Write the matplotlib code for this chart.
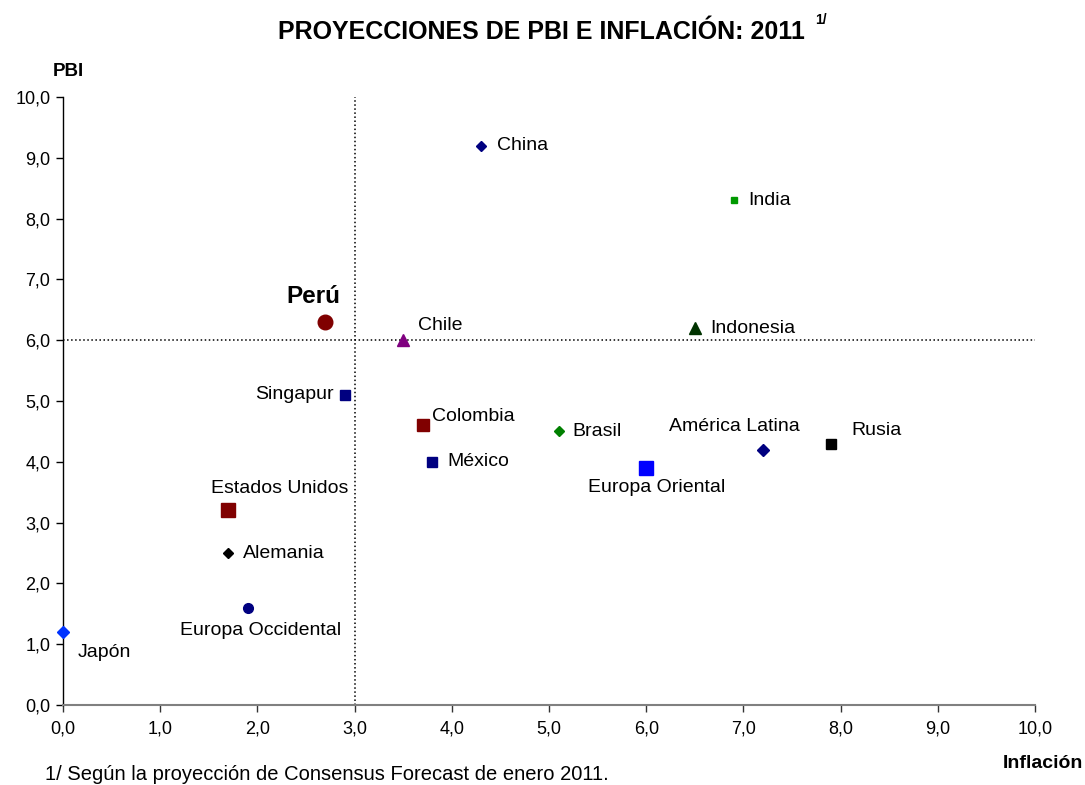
import matplotlib
matplotlib.use('Agg')
import matplotlib.pyplot as plt
from matplotlib.ticker import FuncFormatter

plt.rcParams['font.family'] = ['Liberation Sans', 'DejaVu Sans']

# Datos: inflación (x) y crecimiento del PBI (y) proyectados para 2011
paises = ['China', 'India', 'Perú', 'Chile', 'Indonesia', 'Singapur', 'Colombia',
          'Brasil', 'México', 'América Latina', 'Rusia', 'Europa Oriental',
          'Estados Unidos', 'Alemania', 'Europa Occidental', 'Japón']
inflacion = [4.3, 6.9, 2.7, 3.5, 6.5, 2.9, 3.7, 5.1, 3.8, 7.2, 7.9, 6.0, 1.7, 1.7, 1.9, 0.0]
pbi = [9.2, 8.3, 6.3, 6.0, 6.2, 5.1, 4.6, 4.5, 4.0, 4.2, 4.3, 3.9, 3.2, 2.5, 1.6, 1.2]

ticks = [0, 1, 2, 3, 4, 5, 6, 7, 8, 9, 10]
ref_inflacion = 3.0
ref_pbi = 6.0

# Estilo de cada punto: marcador, color, tamaño, desplazamiento de etiqueta (px), alineación
estilos = {
    'China': ('D', '#000080', 5.5, (16, 0), 'left'),
    'India': ('s', '#009900', 4.5, (15, 0), 'left'),
    'Perú': ('o', '#800000', 10.5, (-12, 25), 'center'),
    'Chile': ('^', '#800080', 8, (15, 15), 'left'),
    'Indonesia': ('^', '#003300', 8, (15, 0), 'left'),
    'Singapur': ('s', '#000080', 7.5, (-11, 0), 'right'),
    'Colombia': ('s', '#800000', 8, (9, 9), 'left'),
    'Brasil': ('D', '#008000', 5.5, (14, 0), 'left'),
    'México': ('s', '#000080', 6.5, (15, 0), 'left'),
    'América Latina': ('D', '#000080', 6, (-28, 23), 'center'),
    'Rusia': ('s', '#000000', 6.5, (20, 13), 'left'),
    'Europa Oriental': ('s', '#0000FF', 10.5, (10, -20), 'center'),
    'Estados Unidos': ('s', '#800000', 10.5, (51, 22), 'center'),
    'Alemania': ('D', '#000000', 5.5, (15, 0), 'left'),
    'Europa Occidental': ('o', '#000080', 7, (13, -23), 'center'),
    'Japón': ('D', '#0033FF', 6, (15, -20), 'left'),
}

fig = plt.figure(figsize=(10.85, 7.85), dpi=100)
ax = fig.add_axes([63 / 1085, 80 / 785, 972 / 1085, 608 / 785])

# Líneas de referencia
ax.axvline(ref_inflacion, color='black', linestyle=':', linewidth=1.1, zorder=1)
ax.axhline(ref_pbi, color='black', linestyle=':', linewidth=1.1, zorder=1)

for nombre, x, y in zip(paises, inflacion, pbi):
    marker, color, size, offset, ha = estilos[nombre]
    ax.plot(x, y, marker=marker, color=color, markersize=size, linestyle='none',
            clip_on=False, zorder=3)
    bold = nombre == 'Perú'
    ax.annotate(nombre, (x, y), xytext=offset, textcoords='offset pixels',
                ha=ha, va='center', fontsize=17.5 if bold else 14,
                fontweight='bold' if bold else 'normal', color='black')

ax.set_xlim(0, 10)
ax.set_ylim(0, 10)
ax.set_xticks(ticks)
ax.set_yticks(ticks)
fmt = FuncFormatter(lambda v, p: f'{v:.1f}'.replace('.', ','))
ax.xaxis.set_major_formatter(fmt)
ax.yaxis.set_major_formatter(fmt)
ax.tick_params(axis='both', labelsize=13, direction='out', length=5, width=1)
ax.tick_params(axis='x', pad=6, color='#333333')
ax.tick_params(axis='y', pad=4)

for s in ['top', 'right']:
    ax.spines[s].set_visible(False)
ax.spines['left'].set_color('black')
ax.spines['left'].set_linewidth(1)
ax.spines['bottom'].set_color('#808080')
ax.spines['bottom'].set_linewidth(1.5)

# Títulos y notas
fig.text(541 / 1085, 1 - 32 / 785, 'PROYECCIONES DE PBI E INFLACIÓN: 2011',
         ha='center', va='center', fontsize=18, fontweight='bold')
fig.text(815 / 1085, 1 - 20 / 785, '1/', ha='left', va='center',
         fontsize=10, fontweight='bold')
fig.text(68 / 1085, 1 - 72 / 785, 'PBI', ha='center', va='center',
         fontsize=13.5, fontweight='bold')
fig.text(1083 / 1085, 1 - 763 / 785, 'Inflación', ha='right', va='center',
         fontsize=14, fontweight='bold')
fig.text(45 / 1085, 1 - 775 / 785,
         '1/ Según la proyección de Consensus Forecast de enero 2011.',
         ha='left', va='center', fontsize=14.5)

plt.savefig('out.png', dpi=100)
plt.close()
